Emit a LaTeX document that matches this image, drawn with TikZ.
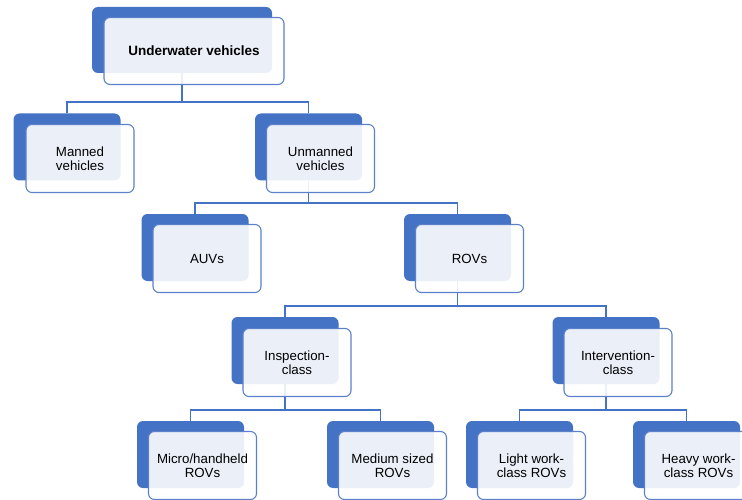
\documentclass[tikz,border=0pt]{standalone}
\usepackage{fontspec}
\setmainfont{Liberation Sans}
\definecolor{accent}{RGB}{68,114,196}
\definecolor{edgeblue}{RGB}{92,128,202}
\begin{document}
\begin{tikzpicture}[x=1pt,y=-1pt,
  backbox/.style={fill=accent, draw=none, rounded corners=6pt,
    minimum width=107pt, minimum height=67pt, inner sep=0pt},
  frontbox/.style={fill=white, fill opacity=0.89, text opacity=1,
    draw=edgeblue, line width=1.1pt, rounded corners=6pt,
    minimum width=108pt, minimum height=68pt, inner sep=0pt,
    align=center, font=\fontsize{13.3}{14.5}\selectfont},
  link/.style={draw=accent, line width=1.1pt}]
\useasboundingbox (0,0) rectangle (742,500);
\clip (0,0) rectangle (742,500);

% bus levels of the tree
\coordinate (busA) at (0,102);
\coordinate (busB) at (0,203);
\coordinate (busC) at (0,306);
\coordinate (busD) at (0,410);

% dark back plates
\node[backbox, minimum width=180pt, minimum height=66pt] (uvB) at (182,40) {};
\node[backbox] (manB)   at (67,147)    {};
\node[backbox] (unmB)   at (308.5,147) {};
\node[backbox] (auvB)   at (195,247.5) {};
\node[backbox] (rovB)   at (457.5,247.5) {};
\node[backbox] (inspB)  at (285,350.5) {};
\node[backbox] (intB)   at (606,350.5) {};
\node[backbox] (microB) at (190.5,454.5) {};
\node[backbox] (medB)   at (380.5,454.5) {};
\node[backbox] (lightB) at (519.5,454.5) {};
\node[backbox] (heavyB) at (686.5,454.5) {};

% connectors
\draw[link] (uvB.south) -- (uvB.south |- busA) -| (manB.north);
\draw[link] (uvB.south |- busA) -| (unmB.north);
\draw[link] (unmB.south) -- (unmB.south |- busB) -| (auvB.north);
\draw[link] (unmB.south |- busB) -| (rovB.north);
\draw[link] (rovB.south) -- (rovB.south |- busC) -| (inspB.north);
\draw[link] (rovB.south |- busC) -| (intB.north);
\draw[link] (inspB.south) -- (inspB.south |- busD) -| (microB.north);
\draw[link] (inspB.south |- busD) -| (medB.north);
\draw[link] (intB.south) -- (intB.south |- busD) -| (lightB.north);
\draw[link] (intB.south |- busD) -| (heavyB.north);

% light front cards with labels
\node[frontbox, minimum width=180pt, minimum height=67pt,
      font=\fontsize{13.5}{14.5}\selectfont\bfseries] (uv) at (194,51) {Underwater vehicles};
\node[frontbox] (man)   at (80,158.5)    {Manned\\vehicles};
\node[frontbox] (unm)   at (320.5,158.5) {Unmanned\\vehicles};
\node[frontbox] (auv)   at (207,258.5)   {AUVs};
\node[frontbox] (rov)   at (469.5,258.5) {ROVs};
\node[frontbox] (insp)  at (297,362.5)   {Inspection-\\class};
\node[frontbox] (int)   at (618,362.5)   {Intervention-\\class};
\node[frontbox] (micro) at (202.5,465.5) {Micro/handheld\\ROVs};
\node[frontbox] (med)   at (392.5,465.5) {Medium sized\\ROVs};
\node[frontbox] (light) at (531.5,465.5) {Light work-\\class ROVs};
\node[frontbox] (heavy) at (698.5,465.5) {Heavy work-\\class ROVs};
\end{tikzpicture}
\end{document}
